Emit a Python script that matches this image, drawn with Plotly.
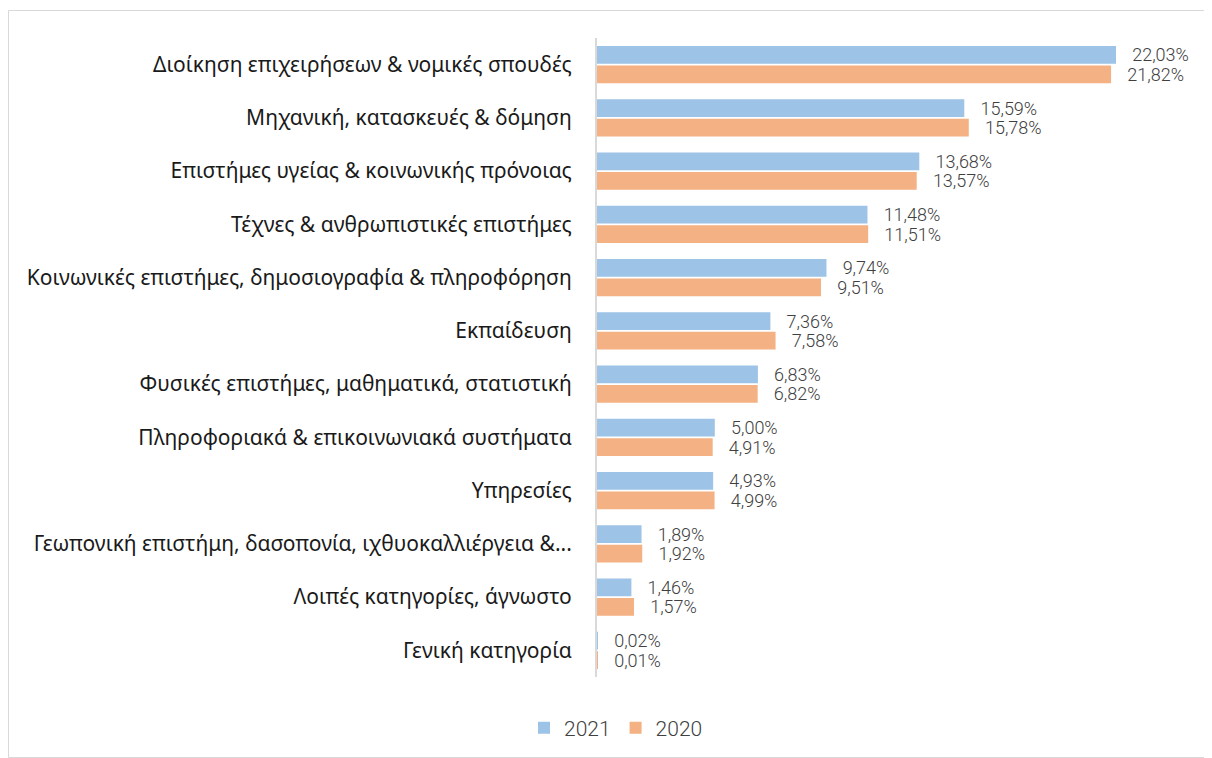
import plotly.graph_objects as go

categories = [
    "Διοίκηση επιχειρήσεων & νομικές σπουδές",
    "Μηχανική, κατασκευές & δόμηση",
    "Επιστήμες υγείας & κοινωνικής πρόνοιας",
    "Τέχνες & ανθρωπιστικές επιστήμες",
    "Κοινωνικές επιστήμες, δημοσιογραφία & πληροφόρηση",
    "Εκπαίδευση",
    "Φυσικές επιστήμες, μαθηματικά, στατιστική",
    "Πληροφοριακά & επικοινωνιακά συστήματα",
    "Υπηρεσίες",
    "Γεωπονική επιστήμη, δασοπονία, ιχθυοκαλλιέργεια &...",
    "Λοιπές κατηγορίες, άγνωστο",
    "Γενική κατηγορία",
]
values_2021 = [22.03, 15.59, 13.68, 11.48, 9.74, 7.36, 6.83, 5.00, 4.93, 1.89, 1.46, 0.02]
values_2020 = [21.82, 15.78, 13.57, 11.51, 9.51, 7.58, 6.82, 4.91, 4.99, 1.92, 1.57, 0.01]
series_names = ["2021", "2020"]
colors = ["#9DC3E6", "#F4B183"]

W, H = 1212, 758
OFF = 8  # page body margin
# desired plot-area edges in screen pixels
sx0, sx1, sy0, sy1 = 597, 1186, 38, 677
ml = sx0 - OFF
mr = W - (sx1 - OFF)
mt = sy0 - OFF
mb = H - (sy1 - OFF)
pw, ph = sx1 - sx0, sy1 - sy0

def px_x(p):
    return (p - sx0) / pw

def px_y(p):
    return (sy1 - p) / ph

value_font = dict(family="Roboto", size=18, color="#404040", weight=300)

fig = go.Figure()
for name, vals, col in zip(series_names, [values_2021, values_2020], colors):
    fig.add_trace(go.Bar(
        name=name, y=categories, x=vals, orientation="h",
        marker=dict(color=col, line=dict(width=0)),
        texttemplate="\u00a0\u00a0\u00a0%{x:.2f}%", textposition="outside",
        textfont=value_font, constraintext="none",
        cliponaxis=False,
    ))

fig.update_layout(
    width=W, height=H,
    margin=dict(l=ml, r=mr, t=mt, b=mb),
    paper_bgcolor="white", plot_bgcolor="white",
    barmode="group", bargap=0.26, bargroupgap=0.1,
    separators=",.",
    showlegend=True,
    legend=dict(orientation="h", x=px_x(616), xanchor="center",
                y=px_y(728), yanchor="middle",
                font=dict(family="Roboto", size=21, color="#404040", weight=300),
                itemwidth=30, traceorder="normal"),
    xaxis=dict(range=[0, 25], showgrid=False, showticklabels=False, zeroline=False, showline=False),
    yaxis=dict(autorange="reversed", showgrid=False, showline=True, linecolor="#D9D9D9", linewidth=2,
               ticks="", ticklabelstandoff=19,
               tickfont=dict(family="Noto Sans, Open Sans", size=21, color="#1a1a1a")),
    shapes=[dict(type="rect", xref="paper", yref="paper",
                 x0=px_x(8.5), x1=px_x(1211.5), y0=px_y(757.5), y1=px_y(10.5),
                 line=dict(color="#D9D9D9", width=1), fillcolor="rgba(0,0,0,0)", layer="below")],
)

fig.write_html("out.html")
